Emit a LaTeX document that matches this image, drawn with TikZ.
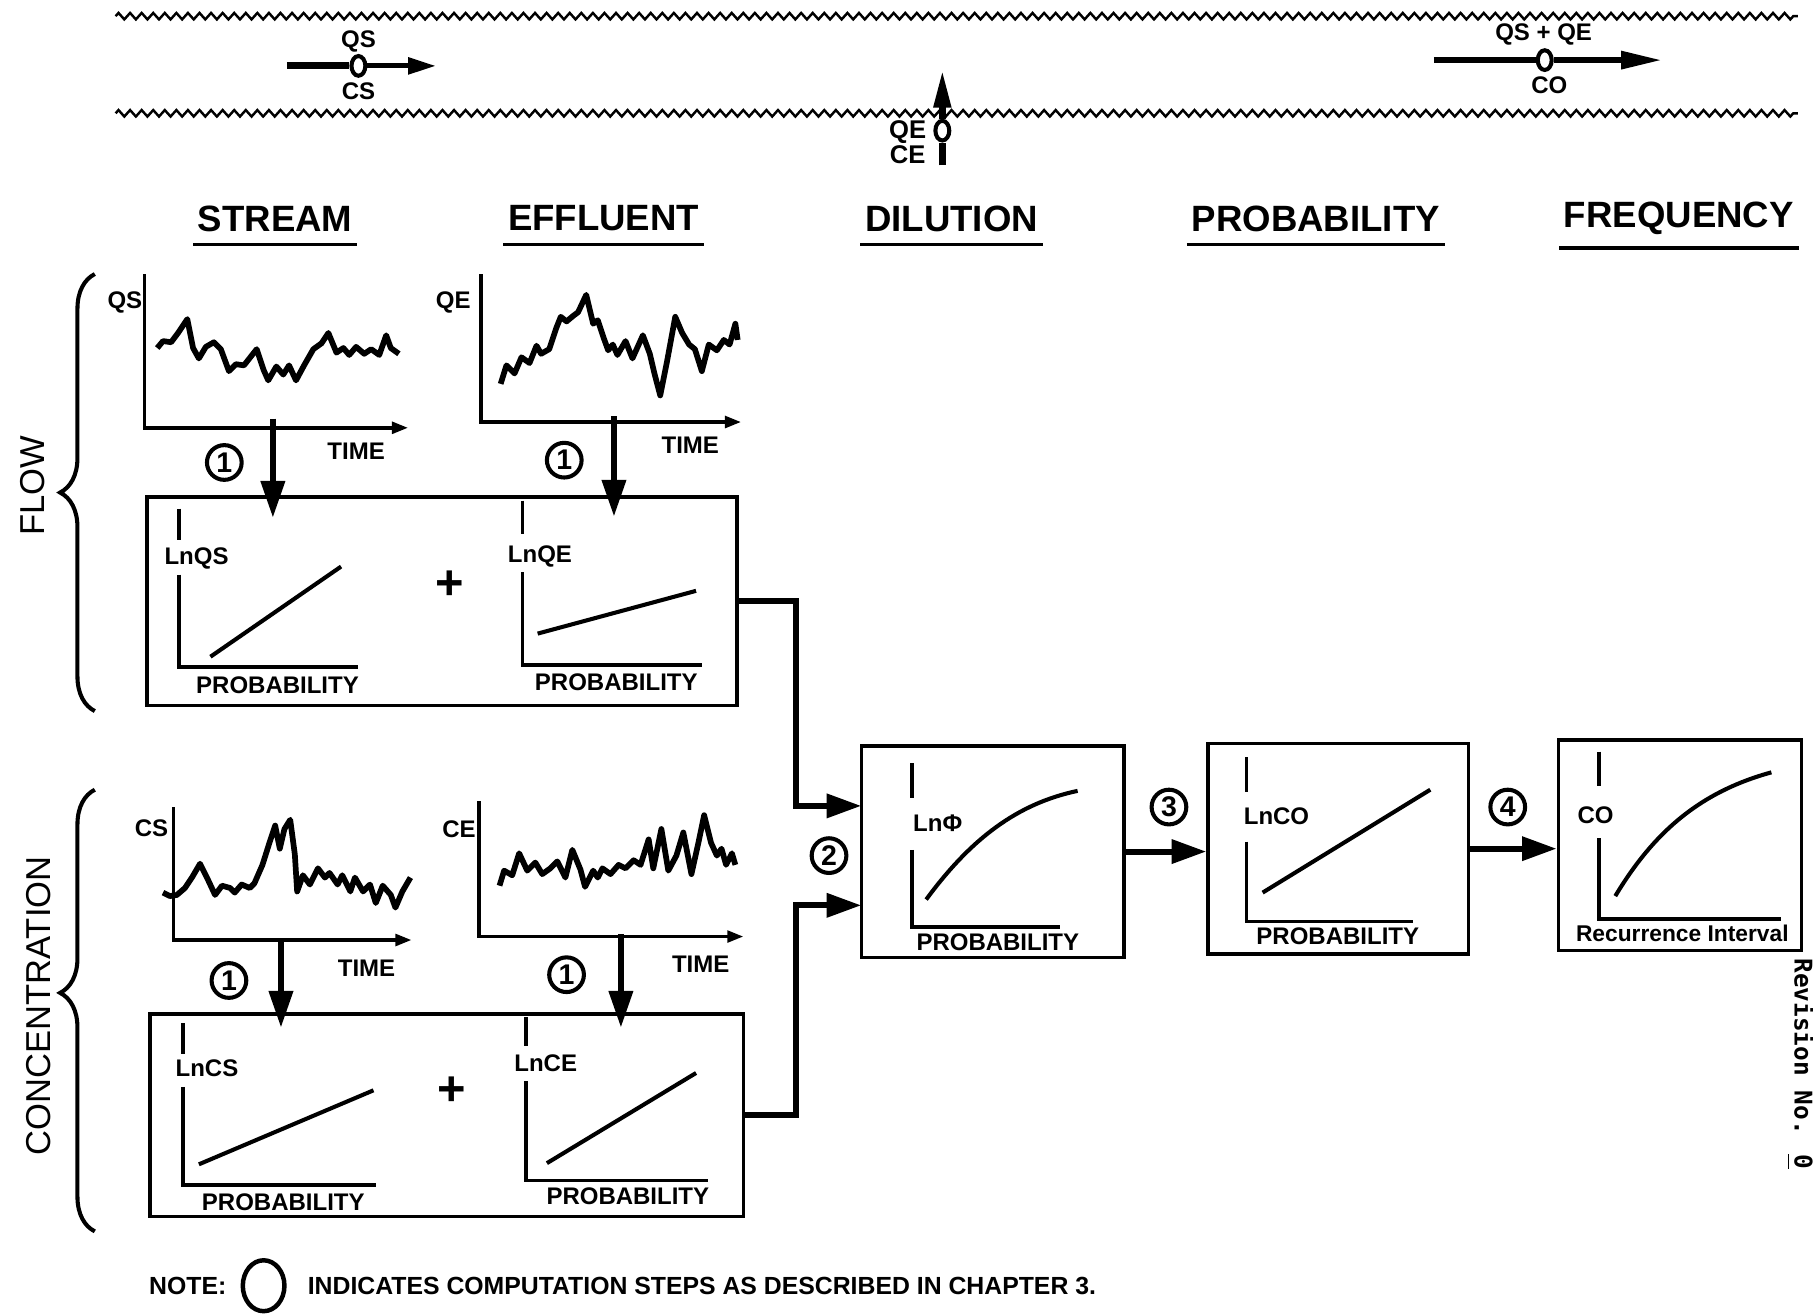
\documentclass[tikz,border=0pt]{standalone}
\usepackage{fontspec}
\setmainfont{Liberation Sans}
\newfontfamily\revfont{DejaVu Sans Mono}
\usetikzlibrary{arrows.meta,calc,positioning,shapes.geometric,decorations.pathmorphing,decorations.pathreplacing}

\begin{document}
\begin{tikzpicture}[
    x=0.01cm, y=-0.01cm,
    wave/.style={decorate, decoration={zigzag, segment length=0.1cm, amplitude=0.028cm}, line width=0.6pt},
    axis/.style={line width=0.9pt},
    trend/.style={line width=1pt},
    series/.style={line width=1.4pt, line join=round},
    panel/.style={draw, line width=0.9pt, inner sep=0pt},
    drop/.style={line width=1.6pt, -{Triangle[length=0.32cm, width=0.2cm]}},
    feed/.style={line width=1.5pt, -{Triangle[length=0.3cm, width=0.2cm]}},
    timeaxis/.style={axis, -{Triangle[length=0.14cm, width=0.1cm]}},
    stepno/.style={circle, draw, line width=1pt, minimum size=0.3cm, inner sep=0pt, font=\bfseries\fontsize{7}{7}\selectfont},
    heading/.style={font=\bfseries\fontsize{9}{10}\selectfont, inner xsep=1pt, inner ysep=3pt},
    tag/.style={font=\bfseries\fontsize{5.9}{6}\selectfont, inner sep=1pt},
    side/.style={font=\fontsize{8.5}{9}\selectfont, rotate=90},
    valve/.style={ellipse, draw, line width=1pt, fill=white, minimum width=0.12cm, minimum height=0.17cm, inner sep=0pt}
]
    \useasboundingbox (0,0) rectangle (1568,1137);

    % --- stream banks with mixing sketch ---
    \draw[wave] (100,14) -- (1555,14);
    \draw[wave] (100,98) -- (1555,98);

    \node[valve] (qsvalve) at (310,57) {};
    \coordinate (qsin) at (248,57);
    \coordinate (qsout) at (377,57);
    \draw[line width=1.7pt] (qsin) -- (qsvalve);
    \draw[line width=1.2pt, -{Triangle[length=0.24cm, width=0.14cm]}] (qsvalve) -- (qsout);
    \node[tag] at (310,36) {QS};
    \node[tag] at (310,79) {CS};

    \node[valve] (qevalve) at (815,113) {};
    \coordinate (qebase) at (815,143);
    \coordinate (qetop) at (815,60);
    \draw[line width=1.7pt] (qebase) -- (qevalve);
    \draw[line width=1.7pt, -{Triangle[length=0.33cm, width=0.14cm]}] (qevalve) -- (qetop);
    \node[tag, font=\bfseries\fontsize{6.3}{7}\selectfont] at (785,114) {QE};
    \node[tag, font=\bfseries\fontsize{6.3}{7}\selectfont] at (785,134) {CE};

    \node[valve] (covalve) at (1336,52) {};
    \coordinate (coin) at (1240,52);
    \coordinate (coout) at (1437,52);
    \draw[line width=1.3pt] (coin) -- (covalve);
    \draw[line width=1.3pt, -{Triangle[length=0.35cm, width=0.15cm]}] (covalve) -- (coout);
    \node[tag] at (1335,30) {QS + QE};
    \node[tag] at (1340,74) {CO};

    % --- column headings ---
    \foreach \name/\x/\txt in {hstream/238/STREAM, heffl/522/EFFLUENT, hdil/823/DILUTION, hprob/1138/PROBABILITY, hfreq/1452/FREQUENCY} {
        \node[heading] (\name) at (\x,189) {\txt};
        \draw[line width=0.8pt] (\name.south west) -- (\name.south east);
    }

    % --- side braces ---
    \draw[decorate, decoration={brace, amplitude=0.3cm}, line width=1pt] (82,615) -- (82,237);
    \node[side] at (28,420) {FLOW};
    \draw[decorate, decoration={brace, amplitude=0.3cm, aspect=0.54}, line width=1pt] (82,1065) -- (82,683);
    \node[side] at (33,870) {CONCENTRATION};

    % --- FLOW: time series ---
    \draw[timeaxis] (125,237) -- (125,370) -- (353,370);
    \node[tag] at (108,262) {QS};
    \node[tag] at (308,390) {TIME};
    \draw[series] plot coordinates {(136,301) (141,295) (148,296) (154,288) (162,276) (167,301) (172,310) (178,300) (185,296) (191,302) (198,321) (204,315) (211,316) (222,302) (228,320) (232,329) (239,317) (245,324) (250,316) (256,329) (263,316) (271,302) (278,297) (284,288) (291,305) (297,301) (302,307) (308,300) (315,306) (321,302) (328,307) (334,290) (338,301) (345,306)};

    \draw[timeaxis] (416,237) -- (416,365) -- (641,365);
    \node[tag] at (392,262) {QE};
    \node[tag] at (597,385) {TIME};
    \draw[series] plot coordinates {(433,332) (438,316) (445,323) (451,309) (458,314) (464,299) (468,306) (475,302) (481,284) (485,274) (490,278) (496,273) (500,270) (507,255) (513,280) (517,277) (522,292) (526,303) (530,298) (534,307) (541,295) (547,310) (556,290) (562,306) (566,323) (571,342) (577,312) (584,274) (590,288) (596,298) (601,302) (607,321) (613,298) (620,303) (626,294) (631,298) (636,280) (638,294)};

    \node[stepno] (s1a) at (194,400) {1};
    \node[stepno] (s1b) at (488,398) {1};
    \coordinate (qsdrop) at (236,362);
    \coordinate (qsland) at (236,448);
    \coordinate (qedrop) at (531,360);
    \coordinate (qeland) at (531,447);
    \draw[drop] (qsdrop) -- (qsland);
    \draw[drop] (qedrop) -- (qeland);

    % --- FLOW: probability box ---
    \node[panel, minimum width=5.10cm, minimum height=1.80cm] (flowbox) at (382,520) {};
    \draw[axis] (155,440) -- (155,467);
    \node[tag] at (170,483) {LnQS};
    \draw[axis] (155,497) -- (155,577) -- (310,577);
    \draw[trend] (182,568) -- (295,490);
    \node[tag] at (240,593) {PROBABILITY};
    \node[font=\bfseries\fontsize{12}{12}\selectfont] (plusflow) at (389,506) {+};
    \draw[axis] (452,433) -- (452,462);
    \node[tag] at (467,481) {LnQE};
    \draw[axis] (452,495) -- (452,575) -- (607,575);
    \draw[trend] (465,548) -- (602,511);
    \node[tag] at (533,590) {PROBABILITY};

    % --- CONCENTRATION: time series ---
    \draw[timeaxis] (150,698) -- (150,813) -- (356,813);
    \node[tag] at (131,716) {CS};
    \node[tag] at (317,837) {TIME};
    \draw[series] plot coordinates {(141,772) (147,775) (153,774) (160,768) (166,759) (173,747) (179,759) (186,774) (192,766) (199,768) (203,772) (209,765) (216,768) (220,764) (227,748) (233,729) (238,714) (242,734) (246,717) (251,709) (255,739) (257,771) (262,757) (268,765) (275,751) (281,759) (285,755) (292,765) (296,757) (303,771) (307,759) (314,771) (320,765) (325,781) (331,766) (338,774) (342,785) (348,771) (355,759)};

    \draw[timeaxis] (414,693) -- (414,810) -- (643,810);
    \node[tag] at (397,717) {CE};
    \node[tag] at (606,834) {TIME};
    \draw[series] plot coordinates {(432,766) (436,753) (443,757) (449,738) (456,753) (463,746) (469,756) (476,751) (482,745) (489,759) (495,735) (502,752) (506,767) (513,753) (517,759) (521,751) (528,756) (535,748) (541,751) (548,744) (554,748) (561,726) (565,751) (572,717) (578,753) (585,740) (591,720) (598,756) (604,729) (609,705) (615,729) (620,740) (624,734) (628,748) (633,738) (636,748)};

    \node[stepno] (s1c) at (198,848) {1};
    \node[stepno] (s1d) at (490,843) {1};
    \coordinate (csdrop) at (243,812);
    \coordinate (csland) at (243,889);
    \coordinate (cedrop) at (537,808);
    \coordinate (celand) at (537,889);
    \draw[drop] (csdrop) -- (csland);
    \draw[drop] (cedrop) -- (celand);

    % --- CONCENTRATION: probability box ---
    \node[panel, minimum width=5.13cm, minimum height=1.75cm] (concbox) at (386.5,964.5) {};
    \draw[axis] (158,885) -- (158,912);
    \node[tag] at (179,924) {LnCS};
    \draw[axis] (158,940) -- (158,1025) -- (325,1025);
    \draw[trend] (172,1007) -- (323,943);
    \node[tag] at (245,1040) {PROBABILITY};
    \node[font=\bfseries\fontsize{12}{12}\selectfont] (plusconc) at (391,944) {+};
    \draw[axis] (455,880) -- (455,905);
    \node[tag] at (472,920) {LnCE};
    \draw[axis] (455,935) -- (455,1021) -- (612,1021);
    \draw[trend] (473,1006) -- (602,928);
    \node[tag] at (543,1035) {PROBABILITY};

    % --- 2. dilution ---
    \node[panel, minimum width=2.27cm, minimum height=1.83cm] (dilbox) at (858.5,736.5) {};
    \coordinate (dilin1) at (745,697);
    \coordinate (dilin2) at (745,783);
    \draw[feed] (flowbox.east) -- ++(50,0) |- (dilin1);
    \draw[feed] (concbox.east) -- ++(44,0) |- (dilin2);
    \node[stepno] (s2) at (717,740) {2};
    \draw[axis] (789,660) -- (789,690);
    \node[tag] at (811,712) {LnΦ};
    \draw[axis] (789,735) -- (789,802) -- (917,802);
    \draw[trend] (801,778) .. controls (840,725) and (880,695) .. (932,684);
    \node[tag] at (863,815) {PROBABILITY};

    % --- 3. probability ---
    \node[panel, minimum width=2.25cm, minimum height=1.82cm] (probbox) at (1157.5,734) {};
    \draw[feed] (dilbox.east) -- (dilbox.east -| probbox.west);
    \node[stepno] (s3) at (1011,698) {3};
    \draw[axis] (1078,655) -- (1078,685);
    \node[tag] at (1104,706) {LnCO};
    \draw[axis] (1078,728) -- (1078,797) -- (1222,797);
    \draw[trend] (1092,772) -- (1237,683);
    \node[tag] at (1157,810) {PROBABILITY};

    % --- 4. frequency ---
    \node[panel, minimum width=2.10cm, minimum height=1.82cm] (freqbox) at (1453,731) {};
    \draw[feed] (probbox.east) -- (probbox.east -| freqbox.west);
    \node[stepno] (s4) at (1304,698) {4};
    \draw[axis] (1383,650) -- (1383,680);
    \node[tag] at (1380,705) {CO};
    \draw[axis] (1383,725) -- (1383,795) -- (1540,795);
    \draw[trend] (1397,775) .. controls (1430,720) and (1470,685) .. (1532,668);
    \node[tag, font=\bfseries\fontsize{5.6}{6}\selectfont] at (1455,807) {Recurrence Interval};

    % --- margin note ---
    \node[rotate=-90, font=\revfont\bfseries\fontsize{6}{7}\selectfont] (rev) at (1557,920) {Revision No. \underline{0}};

    % --- footnote ---
    \node[tag, anchor=east, font=\bfseries\fontsize{6.1}{7}\selectfont] (note) at (200,1112) {NOTE:};
    \node[ellipse, draw, line width=1.1pt, minimum width=0.36cm, minimum height=0.44cm, inner sep=0pt] (noteoval) at (228,1112) {};
    \node[tag, anchor=west, font=\bfseries\fontsize{6.1}{7}\selectfont] (notetext) at (262,1112) {INDICATES COMPUTATION STEPS AS DESCRIBED IN CHAPTER 3.};

\end{tikzpicture}
\end{document}
